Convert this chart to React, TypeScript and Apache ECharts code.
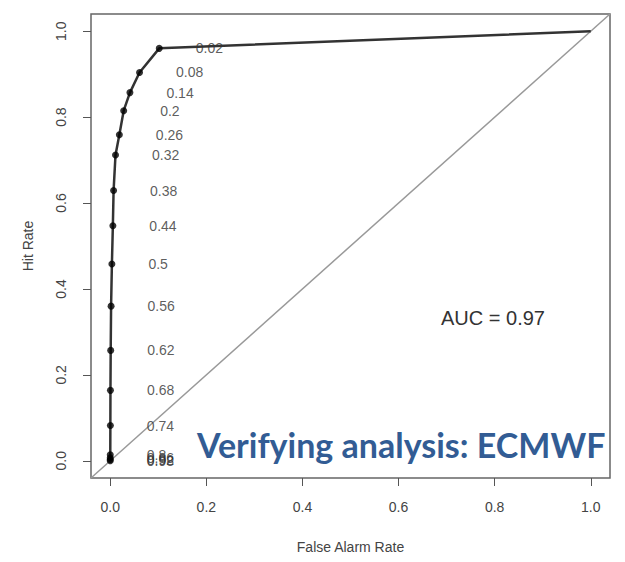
import React, { useEffect, useRef } from "react";
import * as echarts from "echarts";

const thresholds = ["0.02", "0.08", "0.14", "0.2", "0.26", "0.32", "0.38", "0.44", "0.5", "0.56", "0.62", "0.68", "0.74", "0.8", "0.86", "0.92", "0.98"];
const falseAlarmRate = [0.102, 0.061, 0.041, 0.028, 0.019, 0.011, 0.007, 0.0055, 0.0035, 0.0018, 0.001, 0.0005, 0.0003, 0.0001, 0.0, 0.0, 0.0];
const hitRate = [0.96, 0.904, 0.857, 0.815, 0.759, 0.712, 0.629, 0.547, 0.458, 0.36, 0.257, 0.164, 0.082, 0.014, 0.007, 0.003, 0.0];
const curveStart: [number, number] = [0, 0];
const curveEnd: [number, number] = [1, 1];
const diagonal: [number, number][] = [[-0.04, -0.04], [1.04, 1.04]];
const tickValues = [0, 0.2, 0.4, 0.6, 0.8, 1.0];
const aucText = "AUC = 0.97";
const noteText = "Verifying analysis: ECMWF";

export default function App() {
  const ref = useRef<HTMLDivElement>(null);
  useEffect(() => {
    if (!ref.current) return;
    const chart = echarts.init(ref.current, null, { renderer: "svg" });
    const points = thresholds.map((_, i) => [falseAlarmRate[i], hitRate[i]]);
    const curve = [curveEnd, ...points, curveStart];
    const axisCommon = {
      type: "value",
      min: -0.04,
      max: 1.04,
      splitLine: { show: false },
      axisLine: { show: false, onZero: false },
      axisTick: { show: true, customValues: tickValues, length: 8, lineStyle: { color: "#555", width: 1 } },
      axisLabel: {
        customValues: tickValues,
        formatter: (v: number) => v.toFixed(1),
        fontFamily: "Liberation Sans, Arial, sans-serif",
        fontSize: 14,
        color: "#444",
      },
      nameLocation: "middle",
      nameTextStyle: { fontFamily: "Liberation Sans, Arial, sans-serif", fontSize: 14, color: "#444" },
    };
    chart.setOption({
      animation: false,
      backgroundColor: "#fff",
      grid: { left: 91, right: 15, top: 14, bottom: 84, show: true, borderColor: "#666", borderWidth: 1.5 },
      xAxis: {
        ...axisCommon,
        name: "False Alarm Rate",
        nameGap: 62,
        axisLabel: { ...axisCommon.axisLabel, margin: 22 },
      },
      yAxis: {
        ...axisCommon,
        name: "Hit Rate",
        nameGap: 56,
        axisLabel: { ...axisCommon.axisLabel, margin: 23, rotate: 90 },
      },
      series: [
        {
          type: "line",
          data: diagonal,
          symbol: "none",
          lineStyle: { color: "#999", width: 1.5 },
          silent: true,
          z: 1,
        },
        {
          type: "line",
          data: curve,
          symbol: "none",
          lineStyle: { color: "#333", width: 2.5 },
          z: 2,
        },
        {
          type: "scatter",
          data: points,
          symbol: "circle",
          symbolSize: 7,
          itemStyle: { color: "#000" },
          z: 3,
          label: {
            show: true,
            position: "right",
            distance: 33,
            formatter: (p: any) => thresholds[p.dataIndex],
            fontFamily: "Liberation Sans, Arial, sans-serif",
            fontSize: 14,
            color: "#333",
          },
        },
      ],
      graphic: [
        {
          type: "text",
          left: 441,
          top: 308,
          style: { text: aucText, fontFamily: "Liberation Sans, Arial, sans-serif", fontSize: 20, fill: "#333" },
        },
        {
          type: "text",
          left: 197,
          top: 427,
          style: { text: noteText, fontFamily: "Lato, sans-serif", fontWeight: "bold", fontSize: 34, fill: "#325C94" },
        },
      ],
    });
    return () => chart.dispose();
  }, []);
  return <div ref={ref} style={{ width: 625, height: 562, margin: -8 }} />;
}
